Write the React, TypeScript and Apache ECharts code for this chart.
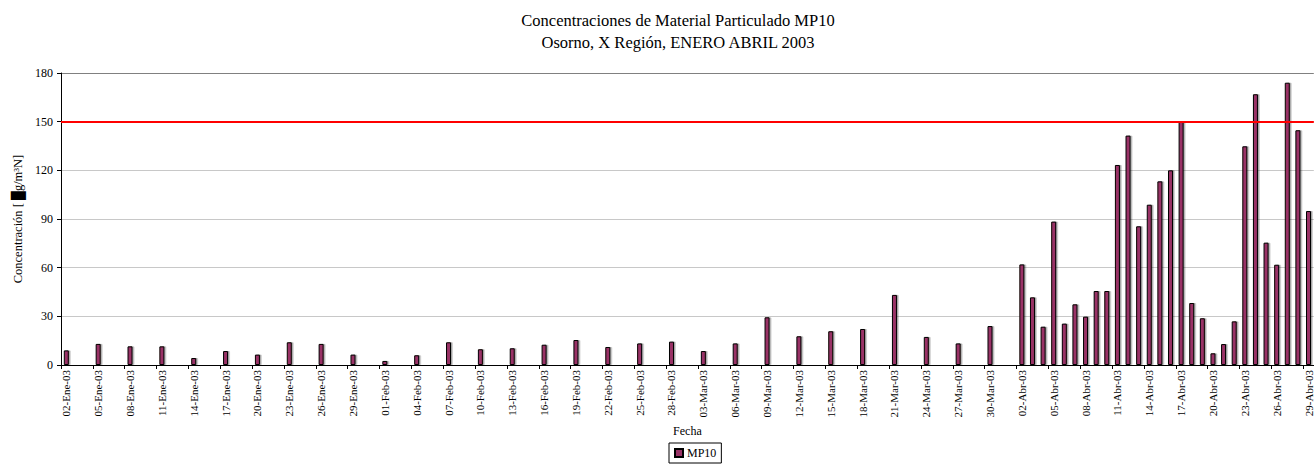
import React, { useEffect, useRef } from "react";
import * as echarts from "echarts";

const FONT = "'Liberation Serif', 'Times New Roman', serif";

const monthNames = ["Ene", "Feb", "Mar", "Abr"];
const monthDays = [31, 28, 31, 30];
const firstDay = 2; // 02-Ene-03
const lastDay = 29; // 29-Abr-03

const yTicks = [0, 30, 60, 90, 120, 150, 180];
const limitValue = 150;

const sampleDates = [
  "02-Ene-03", "05-Ene-03", "08-Ene-03", "11-Ene-03", "14-Ene-03", "17-Ene-03", "20-Ene-03", "23-Ene-03", "26-Ene-03", "29-Ene-03",
  "01-Feb-03", "04-Feb-03", "07-Feb-03", "10-Feb-03", "13-Feb-03", "16-Feb-03", "19-Feb-03", "22-Feb-03", "25-Feb-03", "28-Feb-03",
  "03-Mar-03", "06-Mar-03", "09-Mar-03", "12-Mar-03", "15-Mar-03", "18-Mar-03", "21-Mar-03", "24-Mar-03", "27-Mar-03", "30-Mar-03",
  "02-Abr-03", "03-Abr-03", "04-Abr-03", "05-Abr-03", "06-Abr-03", "07-Abr-03", "08-Abr-03", "09-Abr-03", "10-Abr-03", "11-Abr-03",
  "12-Abr-03", "13-Abr-03", "14-Abr-03", "15-Abr-03", "16-Abr-03", "17-Abr-03", "18-Abr-03", "19-Abr-03", "20-Abr-03", "21-Abr-03",
  "22-Abr-03", "23-Abr-03", "24-Abr-03", "25-Abr-03", "26-Abr-03", "27-Abr-03", "28-Abr-03", "29-Abr-03",
];

const mp10Values = [
  9, 13, 11.5, 11.5, 4.3, 8.6, 6.4, 14, 13, 6.4,
  2.5, 6, 14, 9.7, 10.3, 12.5, 15.4, 11.1, 13.3, 14.4,
  8.6, 13.3, 29.4, 17.7, 20.8, 22.2, 43.2, 17.3, 13.3, 24,
  62, 41.7, 23.6, 88.4, 25.5, 37.4, 29.8, 45.6, 45.6, 123.3,
  141.4, 85.5, 98.8, 113.2, 120, 150, 38.2, 28.8, 7.2, 12.9,
  26.9, 134.8, 166.9, 75.4, 61.8, 174, 144.7, 94.9,
];

function buildCategories(): string[] {
  const out: string[] = [];
  for (let m = 0; m < monthNames.length; m++) {
    const start = m === 0 ? firstDay : 1;
    const end = m === monthNames.length - 1 ? lastDay : monthDays[m];
    for (let d = start; d <= end; d++) {
      out.push(String(d).padStart(2, "0") + "-" + monthNames[m] + "-03");
    }
  }
  return out;
}

const categories = buildCategories();

export default function App() {
  const ref = useRef<HTMLDivElement>(null);

  useEffect(() => {
    if (!ref.current) return;
    const chart = echarts.init(ref.current, undefined, { renderer: "svg" });
    const lookup: Record<string, number> = {};
    sampleDates.forEach((d, i) => (lookup[d] = mp10Values[i]));
    const data = categories.map((c) => (c in lookup ? lookup[c] : "-"));

    chart.setOption({
      animation: false,
      backgroundColor: "#ffffff",
      textStyle: { fontFamily: FONT, color: "#000" },
      title: {
        text: "Concentraciones de Material Particulado MP10\nOsorno, X Región, ENERO ABRIL 2003",
        left: 673,
        top: 4,
        textAlign: "center",
        textStyle: {
          fontFamily: FONT,
          fontSize: 16.5,
          fontWeight: "normal",
          color: "#000",
          lineHeight: 22,
        },
      },
      legend: {
        data: ["MP10"],
        left: 669,
        top: 443,
        orient: "horizontal",
        borderColor: "#000",
        borderWidth: 1,
        padding: [4, 5, 4, 5],
        itemWidth: 8,
        itemHeight: 8,
        itemGap: 4,
        icon: "rect",
        textStyle: { fontFamily: FONT, fontSize: 12, color: "#000", padding: [0, 0, 0, -1] },
      },
      grid: {
        left: 61,
        right: -3,
        top: 73,
        bottom: 99,
        containLabel: false,
      },
      xAxis: {
        type: "category",
        data: categories,
        boundaryGap: true,
        name: "Fecha",
        nameLocation: "middle",
        nameGap: 59,
        nameTextStyle: { fontFamily: FONT, fontSize: 12, color: "#000" },
        axisLine: { lineStyle: { color: "#000", width: 1 } },
        axisTick: { show: true, interval: 2, length: 4, lineStyle: { color: "#000" } },
        axisLabel: {
          interval: 2,
          rotate: 90,
          fontFamily: FONT,
          fontSize: 11,
          color: "#000",
          margin: 5,
        },
        splitLine: { show: false },
      },
      yAxis: {
        type: "value",
        min: yTicks[0],
        max: yTicks[yTicks.length - 1],
        interval: 30,
        name: "Concentración [ █g/m³N]",
        nameLocation: "middle",
        nameGap: 34,
        nameTextStyle: { fontFamily: FONT, fontSize: 12.5, color: "#000" },
        axisLine: { show: true, lineStyle: { color: "#000", width: 1 } },
        axisTick: { show: true, length: 4, lineStyle: { color: "#000" } },
        axisLabel: { fontFamily: FONT, fontSize: 12, color: "#000", margin: 8 },
        splitLine: {
          show: true,
          lineStyle: {
            color: ["#c8c8c8", "#c8c8c8", "#c8c8c8", "#c8c8c8", "#c8c8c8", "#c8c8c8", "#808080"],
            width: 1,
          },
        },
      },
      series: [
        {
          name: "MP10",
          type: "bar",
          data,
          barWidth: 5,
          itemStyle: {
            color: "#993366",
            borderColor: "#000",
            borderWidth: 1,
            shadowColor: "rgba(0,0,0,0.35)",
            shadowOffsetX: 1.5,
            shadowOffsetY: 0,
            shadowBlur: 0,
          },
          markLine: {
            silent: true,
            symbol: ["none", "none"],
            label: { show: false },
            lineStyle: { color: "#ff0000", width: 2, type: "solid" },
            data: [{ yAxis: limitValue }],
          },
        },
      ],
    });

    return () => chart.dispose();
  }, []);

  return (
    <div
      ref={ref}
      style={{ position: "absolute", left: 0, top: 0, width: 1314, height: 464 }}
    />
  );
}
